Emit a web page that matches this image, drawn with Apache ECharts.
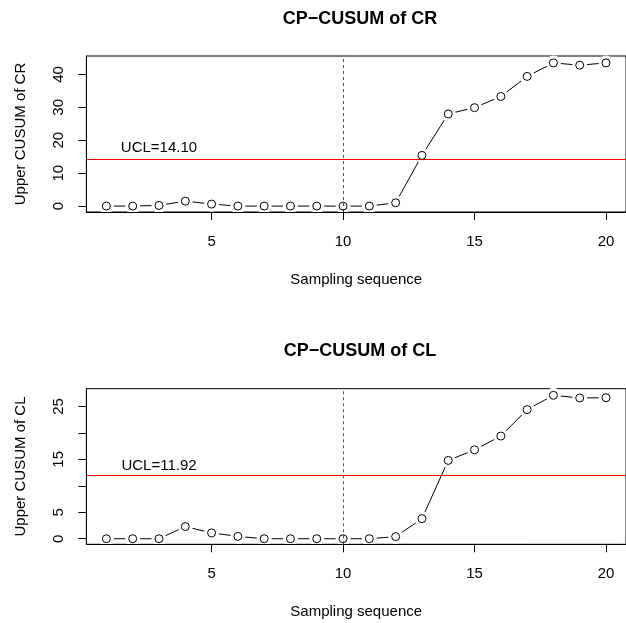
<!DOCTYPE html>
<html>
<head>
<meta charset="utf-8">
<script src="https://cdn.jsdelivr.net/npm/echarts@6/dist/echarts.min.js"></script>
<style>
  html, body { margin: 0; padding: 0; background: #fff; }
  #main { width: 626px; height: 623px; }
</style>
</head>
<body>
<div id="main"></div>
<script>
// sampling sequence 1..20
var samples = [1, 2, 3, 4, 5, 6, 7, 8, 9, 10, 11, 12, 13, 14, 15, 16, 17, 18, 19, 20];
// upper CUSUM values
var cusumCR = [0, 0, 0.2, 1.5, 0.6, 0, 0, 0, 0, 0, 0, 1.0, 15.4, 28.0, 29.9, 33.3, 39.4, 43.5, 42.8, 43.5];
var cusumCL = [0, 0, 0, 2.3, 1.1, 0.45, 0, 0, 0, 0, 0, 0.4, 3.8, 14.8, 16.8, 19.4, 24.4, 27.1, 26.6, 26.65];
var uclCR = 14.10;
var uclCL = 11.92;
var changePoint = 10;
var xTicks = [5, 10, 15, 20];
var yTicksCR = [0, 10, 20, 30, 40];
var yTicksCL = [0, 5, 10, 15, 20, 25];
var yLabelsCL = [0, 5, 15, 25];
var titles = ["CP\u2212CUSUM of CR", "CP\u2212CUSUM of CL"];
var yNames = ["Upper CUSUM of CR", "Upper CUSUM of CL"];
var xName = "Sampling sequence";

var font = "Liberation Sans";
var myChart = echarts.init(document.getElementById("main"));

function pairs(ys) {
  return samples.map(function (x, i) { return [x, ys[i]]; });
}

function xAxisFor(idx) {
  return {
    type: "value", gridIndex: idx, min: 0.24, max: 20.76, z: 5,
    name: xName, nameLocation: "middle", nameGap: 60,
    nameTextStyle: { color: "#000", fontSize: 15, fontFamily: font },
    axisLine: { show: true, onZero: false, lineStyle: { color: "#000", width: 1 } },
    axisTick: { show: true, length: 8, customValues: xTicks, lineStyle: { color: "#000" } },
    axisLabel: { customValues: xTicks, margin: 22, color: "#000", fontSize: 15, fontFamily: font },
    splitLine: { show: false }
  };
}

function yAxisFor(idx, min, max, ticks, labels) {
  return {
    type: "value", gridIndex: idx, min: min, max: max, z: 5,
    name: yNames[idx], nameLocation: "middle", nameRotate: 90, nameGap: 58,
    nameTextStyle: { color: "#000", fontSize: 15, fontFamily: font },
    axisLine: { show: true, onZero: false, lineStyle: { color: "#000", width: 1 } },
    axisTick: { show: true, length: 8, customValues: ticks, lineStyle: { color: "#000" } },
    axisLabel: { customValues: labels, rotate: 90, margin: 20, color: "#000", fontSize: 15, fontFamily: font },
    splitLine: { show: false }
  };
}

function seriesFor(idx, ys, ucl) {
  var data = pairs(ys);
  return [
    // connecting line
    {
      type: "line", xAxisIndex: idx, yAxisIndex: idx, data: data, z: 2,
      showSymbol: false, symbol: "none",
      lineStyle: { color: "#000", width: 1 },
      silent: true
    },
    // white halo leaves gaps round the points (type = "b")
    {
      type: "scatter", xAxisIndex: idx, yAxisIndex: idx, data: data, z: 3,
      symbol: "circle", symbolSize: 15,
      itemStyle: { color: "#fff", opacity: 1 },
      silent: true
    },
    // UCL line
    {
      type: "line", xAxisIndex: idx, yAxisIndex: idx, data: [], z: 4,
      markLine: {
        silent: true, symbol: ["none", "none"], animation: false,
        label: { show: false },
        lineStyle: { color: "#ff0000", width: 1.2, type: "solid", opacity: 1 },
        emphasis: { disabled: true },
        data: [{ yAxis: ucl }]
      },
      markPoint: {
        silent: true, animation: false,
        data: [{
          coord: [3, ucl], symbol: "circle", symbolSize: 0,
          label: { show: true, position: "top", distance: idx === 0 ? 4 : 2,
                   formatter: "UCL=" + ucl.toFixed(2), color: "#000", fontSize: 15, fontFamily: font }
        }]
      }
    },
    // change point line
    {
      type: "line", xAxisIndex: idx, yAxisIndex: idx, data: [], z: 4,
      markLine: {
        silent: true, symbol: ["none", "none"], animation: false,
        label: { show: false },
        lineStyle: { color: "#555", width: 1, type: [3, 3], opacity: 1 },
        emphasis: { disabled: true },
        data: [{ xAxis: changePoint }]
      }
    },
    // open circles
    {
      type: "scatter", xAxisIndex: idx, yAxisIndex: idx, data: data, z: 6,
      symbol: "circle", symbolSize: 8,
      itemStyle: { color: "rgba(0,0,0,0)", borderColor: "#000", borderWidth: 1, opacity: 1 }
    }
  ];
}

var option = {
  animation: false,
  backgroundColor: "#fff",
  title: [
    { text: titles[0], left: 360, top: 10, textAlign: "center", padding: 0,
      textStyle: { fontSize: 18, fontWeight: "bold", color: "#000", fontFamily: font } },
    { text: titles[1], left: 360, top: 342, textAlign: "center", padding: 0,
      textStyle: { fontSize: 18, fontWeight: "bold", color: "#000", fontFamily: font } }
  ],
  grid: [
    { left: 86.4, top: 56, width: 547.2, height: 156, show: true, borderColor: "#000", borderWidth: 1, backgroundColor: "transparent" },
    { left: 86.4, top: 388.7, width: 547.2, height: 155.6, show: true, borderColor: "#000", borderWidth: 1, backgroundColor: "transparent" }
  ],
  xAxis: [xAxisFor(0), xAxisFor(1)],
  yAxis: [
    yAxisFor(0, -1.8, 45.6, yTicksCR, yTicksCR),
    yAxisFor(1, -1.05, 28.35, yTicksCL, yLabelsCL)
  ],
  series: seriesFor(0, cusumCR, uclCR).concat(seriesFor(1, cusumCL, uclCL))
};

myChart.setOption(option);

window.addEventListener("resize", function () {
  myChart.resize();
});
</script>
</body>
</html>
